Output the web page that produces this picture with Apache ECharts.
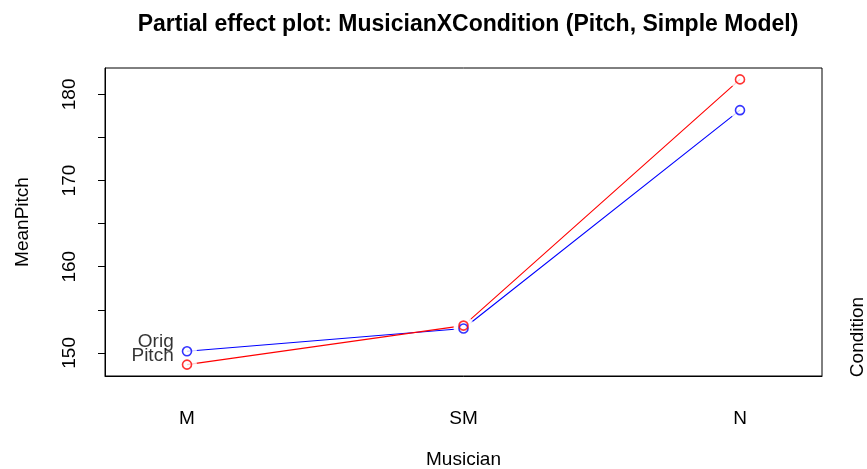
<!DOCTYPE html>
<html>
<head>
<meta charset="utf-8">
<script src="https://cdn.jsdelivr.net/npm/echarts@6/dist/echarts.min.js"></script>
<style>
  html, body { margin: 0; padding: 0; background: #fff; }
  #chart { width: 867px; height: 469px; }
</style>
</head>
<body>
<div id="chart"></div>
<script>
// Musician levels along the x axis (placed at 1, 2, 3)
const musicianLevels = ['M', 'SM', 'N'];
// Mean pitch per musician level, one series per condition
const origValues = [150.19, 152.83, 178.17];
const pitchValues = [148.64, 153.17, 181.74];
// Y axis ticks and the subset that carries labels
const yTickValues = [150, 155, 160, 165, 170, 175, 180];
const yLabelValues = [150, 160, 170, 180];

const FONT = '"Liberation Sans", Arial, Helvetica, sans-serif';
const FS = 19;
const xPos = musicianLevels.map((_, i) => i + 1);
const pairs = vals => vals.map((v, i) => [xPos[i], v]);

const chart = echarts.init(document.getElementById('chart'), null, { renderer: 'canvas' });

function lineSeries(name, vals, color) {
  return {
    name: name,
    type: 'line',
    data: pairs(vals),
    z: 2,
    showSymbol: false,
    symbol: 'none',
    lineStyle: { color: color, width: 1.1 },
    animation: false,
    silent: true
  };
}

// White discs that open small gaps in the lines around each point
function gapSeries(vals) {
  return {
    type: 'scatter',
    data: pairs(vals),
    z: 3,
    symbol: 'circle',
    symbolSize: 20,
    itemStyle: { color: '#fff' },
    animation: false,
    silent: true
  };
}

// Open circle markers; the first point carries the condition name
function markerSeries(name, vals, color, labelOffset) {
  return {
    type: 'scatter',
    data: pairs(vals).map((p, i) => ({
      value: p,
      label: i === 0 ? {
        show: true,
        formatter: name,
        position: 'left',
        distance: 8,
        offset: [0, labelOffset],
        color: '#000',
        fontSize: FS,
        fontFamily: FONT
      } : { show: false }
    })),
    z: 4,
    symbol: 'circle',
    symbolSize: 9,
    itemStyle: { color: 'rgba(0,0,0,0)', borderColor: color, borderWidth: 1.6 },
    animation: false,
    silent: true
  };
}

const option = {
  animation: false,
  backgroundColor: '#fff',
  title: {
    text: 'Partial effect plot: MusicianXCondition (Pitch, Simple Model)',
    left: 463,
    textAlign: 'center',
    top: 8,
    textStyle: { fontFamily: FONT, fontWeight: 'bold', fontSize: 23, color: '#000' }
  },
  grid: {
    left: 105, right: 45, top: 68, bottom: 93,
    outerBoundsMode: 'none',
    containLabel: false,
    show: true, borderColor: '#000', borderWidth: 1, backgroundColor: 'transparent'
  },
  xAxis: {
    type: 'value',
    min: 0.7034,
    max: 3.2966,
    name: 'Musician',
    nameLocation: 'middle',
    nameGap: 74,
    nameTextStyle: { fontFamily: FONT, fontSize: FS, color: '#000' },
    axisLine: { show: true, lineStyle: { color: '#000', width: 1 } },
    axisTick: { show: false },
    splitLine: { show: false },
    axisLabel: {
      customValues: xPos,
      formatter: v => musicianLevels[Math.round(v) - 1] || '',
      margin: 33,
      fontFamily: FONT, fontSize: FS, color: '#000'
    }
  },
  yAxis: {
    type: 'value',
    min: 147.32,
    max: 183.06,
    name: 'MeanPitch',
    nameLocation: 'middle',
    nameGap: 73,
    nameRotate: 90,
    nameTextStyle: { fontFamily: FONT, fontSize: FS, color: '#000' },
    axisLine: { show: true, lineStyle: { color: '#000', width: 1 } },
    axisTick: { show: true, length: 7, customValues: yTickValues, lineStyle: { color: '#000' } },
    splitLine: { show: false },
    axisLabel: {
      customValues: yLabelValues,
      rotate: 90,
      margin: 26,
      fontFamily: FONT, fontSize: FS, color: '#000'
    }
  },
  graphic: [{
    type: 'text',
    x: 858,
    y: 337,
    rotation: Math.PI / 2,
    style: {
      text: 'Condition',
      fontFamily: FONT, fontSize: FS, fill: '#000',
      textAlign: 'center', textVerticalAlign: 'middle'
    }
  }],
  series: [
    lineSeries('Orig', origValues, '#0000ff'),
    lineSeries('Pitch', pitchValues, '#ff0000'),
    gapSeries(origValues),
    gapSeries(pitchValues),
    markerSeries('Orig', origValues, '#0000ff', -10),
    markerSeries('Pitch', pitchValues, '#ff0000', -9)
  ]
};

chart.setOption(option);
</script>
</body>
</html>
